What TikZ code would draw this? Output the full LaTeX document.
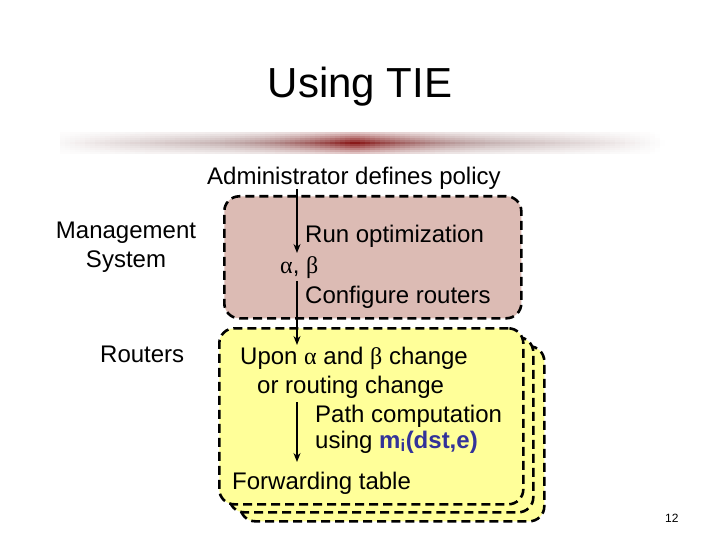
\documentclass[tikz,border=0pt]{standalone}
\usepackage{fontspec}
\setmainfont{Liberation Sans}
\newfontfamily\grk{Liberation Serif}
\usetikzlibrary{arrows.meta}
\definecolor{pinkfill}{RGB}{220,187,180}
\definecolor{yellowfill}{RGB}{255,255,153}
\definecolor{mblue}{RGB}{51,51,153}
\definecolor{barG}{RGB}{160,128,128}
\definecolor{barD}{RGB}{135,18,18}
\tikzset{
  body/.style={font=\fontsize{24}{29}\selectfont, inner sep=0pt, anchor=base west},
  dashbox/.style={draw=black, line width=2.6pt, dash pattern=on 9pt off 5pt, rounded corners=15pt, inner sep=0pt, anchor=north west, minimum width=304pt, minimum height=175pt, fill=yellowfill},
  flow/.style={line width=1.4pt, -{Stealth[length=9pt,width=7pt]}},
}
\begin{document}
\begin{tikzpicture}[x=1pt,y=-1pt]
\useasboundingbox[fill=white] (0,0) rectangle (720,540);
% title and bar
\node[font=\fontsize{42}{48}\selectfont, inner sep=0pt, anchor=base] (title) at (360,98) {Using TIE};
\foreach \i in {0,...,120} {
  \pgfmathsetmacro\xa{60+5*\i}
  \pgfmathsetmacro\dd{min(1,abs(\xa+2.5-355)/310)}
  \pgfmathsetmacro\ph{pow(1.0001-\dd,0.9)}
  \pgfmathtruncatemacro\rr{100*pow(max(0,1-abs(\xa+2.5-355)/160),2)}
  \foreach \j in {0,...,10} {
    \pgfmathsetmacro\ya{132+2*\j}
    \pgfmathsetmacro\vv{max(0,1-0.8*abs(\ya+1-143)/11)}
    \pgfmathtruncatemacro\pp{min(100,100*\ph*\vv)}
    \fill[barD!\rr!barG!\pp!white] (\xa,\ya) rectangle ++(5.4,2.4);
  }
}
% boxes
\node[dashbox] (box3) at (239,345) {};
\node[dashbox] (box2) at (228,336) {};
\node[dashbox, minimum height=176pt] (front) at (218,327) {};
\node[dashbox, fill=pinkfill, minimum width=297pt, minimum height=122pt] (mgmt) at (223,195) {};
% left labels
\node[font=\fontsize{24}{29}\selectfont, inner sep=0pt, align=center, anchor=north] (mslabel) at (126,222) {Management\\System};
\node[body] (rlabel) at (100,362) {Routers};
% texts
\node[body] (admin) at (207,185) {Administrator defines policy};
\node[body] (runopt) at (305,243) {Run optimization};
\node[body] (ab) at (280,273) {{\grk α}, {\grk β}};
\node[body] (config) at (305,303) {Configure routers};
\node[body] (upon) at (240,364) {Upon {\grk α} and {\grk β} change};
\node[body] (orrouting) at (257,393) {or routing change};
\node[body] (pathc) at (315,422) {Path computation};
\node[body] (using) at (315,448) {using {\bfseries\color{mblue}m\textsubscript{i}(dst,e)}};
\node[body] (fwd) at (232,489) {Forwarding table};
\node[font=\fontsize{12}{14}\selectfont, inner sep=0pt, anchor=base west] (pnum) at (665,522) {12};
% arrows
\coordinate (a1s) at (297,189);
\coordinate (a1e) at (297,253);
\coordinate (a2s) at (297,281);
\coordinate (a2e) at (297,345);
\coordinate (a3s) at (297,402);
\coordinate (a3e) at (297,462);
\draw[flow] (a1s) -- (a1e);
\draw[flow] (a2s) -- (a2e);
\draw[flow] (a3s) -- (a3e);
\end{tikzpicture}
\end{document}
